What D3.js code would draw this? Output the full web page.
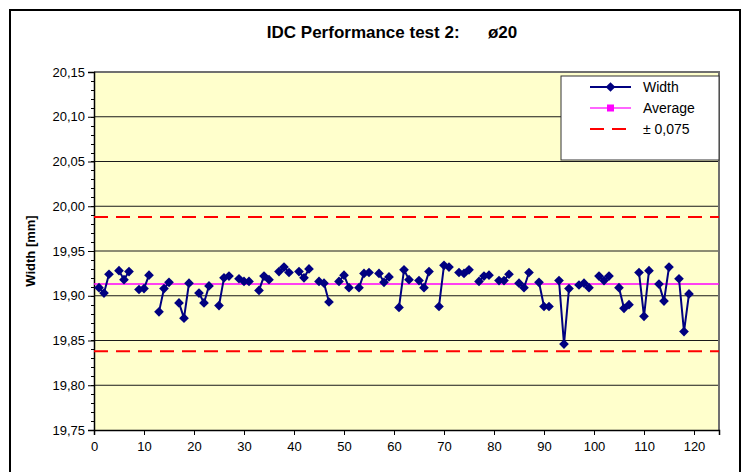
<!DOCTYPE html>
<html>
<head>
<meta charset="utf-8">
<script src="https://cdn.jsdelivr.net/npm/d3@7"></script>
<style>
	body { margin: 0; background: #fff; }
	text { font-family: "Liberation Sans", Arial, sans-serif; }
</style>
</head>
<body>
<div id="chart"></div>
<script>
// measurement number (every 4th sample is blank in the sheet)
const samples = [
	1, 2, 3, 4, 5, 6, 7, 8, 9, 10, 11, 12, 13, 14, 15, 16, 17, 18, 19, 20,
	21, 22, 23, 24, 25, 26, 27, 28, 29, 30, 31, 32, 33, 34, 35, 36, 37, 38, 39, 40,
	41, 42, 43, 44, 45, 46, 47, 48, 49, 50, 51, 52, 53, 54, 55, 56, 57, 58, 59, 60,
	61, 62, 63, 64, 65, 66, 67, 68, 69, 70, 71, 72, 73, 74, 75, 76, 77, 78, 79, 80,
	81, 82, 83, 84, 85, 86, 87, 88, 89, 90, 91, 92, 93, 94, 95, 96, 97, 98, 99, 100,
	101, 102, 103, 104, 105, 106, 107, 108, 109, 110, 111, 112, 113, 114, 115, 116, 117, 118, 119
];
const widths = [
	19.909, 19.903, 19.924, null, 19.928, 19.918, 19.927, null, 19.907, 19.908, 19.923, null,
	19.882, 19.908, 19.915, null, 19.892, 19.875, 19.914, null, 19.903, 19.892, 19.911, null,
	19.889, 19.920, 19.922, null, 19.919, 19.916, 19.916, null, 19.906, 19.922, 19.918, null,
	19.927, 19.932, 19.926, null, 19.927, 19.920, 19.930, null, 19.916, 19.914, 19.893, null,
	19.916, 19.923, 19.909, null, 19.909, 19.925, 19.926, null, 19.925, 19.915, 19.921, null,
	19.887, 19.929, 19.918, null, 19.917, 19.909, 19.927, null, 19.888, 19.934, 19.932, null,
	19.926, 19.925, 19.929, null, 19.916, 19.922, 19.923, null, 19.917, 19.917, 19.924, null,
	19.914, 19.909, 19.926, null, 19.915, 19.888, 19.888, null, 19.917, 19.846, 19.908, null,
	19.912, 19.914, 19.909, null, 19.922, 19.917, 19.922, null, 19.909, 19.886, 19.890, null,
	19.926, 19.877, 19.928, null, 19.913, 19.894, 19.932, null, 19.919, 19.860, 19.902
];
const average = 19.913;
const tolerance = 0.075;
const xTicks = [0, 10, 20, 30, 40, 50, 60, 70, 80, 90, 100, 110, 120];
const yTicks = [19.75, 19.80, 19.85, 19.90, 19.95, 20.00, 20.05, 20.10, 20.15];
const legendLabels = ["Width", "Average", "\u00b1 0,075"];

const W = 748, H = 472;
const plot = { left: 94, right: 719, top: 72, bottom: 430 };

const svg = d3.select("#chart").append("svg")
	.attr("width", W)
	.attr("height", H);

// outer chart frame (runs off the bottom of the picture)
svg.append("rect")
	.attr("x", 10).attr("y", 10)
	.attr("width", 730).attr("height", 480)
	.attr("fill", "#fff")
	.attr("stroke", "#000")
	.attr("stroke-width", 2);

svg.append("text")
	.attr("x", 392).attr("y", 38)
	.attr("text-anchor", "middle")
	.style("font-size", "17px")
	.style("font-weight", "bold")
	.style("white-space", "pre")
	.text("IDC Performance test 2:      \u00f820");

const x = d3.scaleLinear().domain([0, 125]).range([plot.left, plot.right]);
const y = d3.scaleLinear().domain([19.75, 20.15]).range([plot.bottom, plot.top]);
const fmt = d => d3.format(".2f")(d).replace(".", ",");

svg.append("rect")
	.attr("x", plot.left).attr("y", plot.top)
	.attr("width", plot.right - plot.left)
	.attr("height", plot.bottom - plot.top)
	.attr("fill", "#ffffcc");

// gridlines
svg.append("g")
	.selectAll("line")
	.data(yTicks.slice(1, -1))
	.join("line")
	.attr("x1", plot.left).attr("x2", plot.right)
	.attr("y1", d => y(d)).attr("y2", d => y(d))
	.attr("stroke", "#1a1a1a")
	.attr("stroke-width", 1);

// plot border top/right
svg.append("path")
	.attr("d", `M${plot.left},${plot.top}H${plot.right}V${plot.bottom}`)
	.attr("fill", "none")
	.attr("stroke", "#707070")
	.attr("stroke-width", 2);

// minor y ticks
const minor = d3.range(0, 41).map(i => 19.75 + i * 0.01);
svg.append("g")
	.selectAll("line")
	.data(minor)
	.join("line")
	.attr("x1", plot.left - 3).attr("x2", plot.left)
	.attr("y1", d => Math.round(y(d)) + 0.5).attr("y2", d => Math.round(y(d)) + 0.5)
	.attr("stroke", "#000");

const yAxis = svg.append("g")
	.attr("transform", `translate(${plot.left},0)`)
	.call(d3.axisLeft(y).tickValues(yTicks).tickFormat(fmt).tickSize(6).tickPadding(3));
const xAxis = svg.append("g")
	.attr("transform", `translate(0,${plot.bottom})`)
	.call(d3.axisBottom(x).tickValues(xTicks).tickSize(5).tickPadding(7));
[xAxis, yAxis].forEach(a => {
	a.select(".domain").attr("stroke", "#000").attr("stroke-width", 1.5);
	a.selectAll("text")
		.style("font-family", "'Liberation Sans', Arial, sans-serif")
		.style("font-size", "13px")
		.attr("fill", "#000");
});

svg.append("text")
	.attr("transform", `translate(35,${(plot.top + plot.bottom) / 2}) rotate(-90)`)
	.attr("text-anchor", "middle")
	.style("font-size", "13px")
	.style("font-weight", "bold")
	.text("Width [mm]");

// average and limits
const levels = [
	{ v: average, color: "#ff00ff", width: 1.5, dash: null },
	{ v: average + tolerance, color: "#ff0000", width: 2, dash: "14,8" },
	{ v: average - tolerance, color: "#ff0000", width: 2, dash: "14,8" }
];
svg.append("g")
	.selectAll("line")
	.data(levels)
	.join("line")
	.attr("x1", x(0)).attr("x2", x(125))
	.attr("y1", d => y(d.v)).attr("y2", d => y(d.v))
	.attr("stroke", d => d.color)
	.attr("stroke-width", d => d.width)
	.attr("stroke-dasharray", d => d.dash);

// width series
const points = samples.map((s, i) => ({ s: s, v: widths[i] }));
const line = d3.line()
	.defined(d => d.v !== null)
	.x(d => x(d.s))
	.y(d => y(d.v));
svg.append("path")
	.datum(points)
	.attr("d", line)
	.attr("fill", "none")
	.attr("stroke", "#000080")
	.attr("stroke-width", 2);

const diamond = d3.symbol().type(d3.symbolDiamond2).size(60);
svg.append("g")
	.selectAll("path")
	.data(points.filter(d => d.v !== null))
	.join("path")
	.attr("transform", d => `translate(${x(d.s)},${y(d.v)})`)
	.attr("d", diamond)
	.attr("fill", "#000080");

// legend
const lg = svg.append("g").attr("transform", "translate(561,76)");
lg.append("rect")
	.attr("width", 158).attr("height", 84)
	.attr("fill", "#fff")
	.attr("stroke", "#333")
	.attr("stroke-width", 1);
const rows = lg.selectAll("g.row")
	.data(legendLabels)
	.join("g")
	.attr("class", "row")
	.attr("transform", (d, i) => `translate(0,${11 + i * 21})`);
rows.append("line")
	.attr("x1", 29).attr("x2", 70)
	.attr("stroke", (d, i) => i === 0 ? "#000080" : i === 1 ? "#ff66ff" : "#ff0000")
	.attr("stroke-width", 2)
	.attr("stroke-dasharray", (d, i) => i === 2 ? "14,8" : null);
rows.filter((d, i) => i === 0).append("path")
	.attr("transform", "translate(49.5,0)")
	.attr("d", diamond)
	.attr("fill", "#000080");
rows.filter((d, i) => i === 1).append("rect")
	.attr("x", 46).attr("y", -3.5)
	.attr("width", 7).attr("height", 7)
	.attr("fill", "#ff00ff");
rows.append("text")
	.attr("x", 82).attr("y", 5)
	.style("font-size", "14px")
	.text(d => d);
</script>
</body>
</html>
